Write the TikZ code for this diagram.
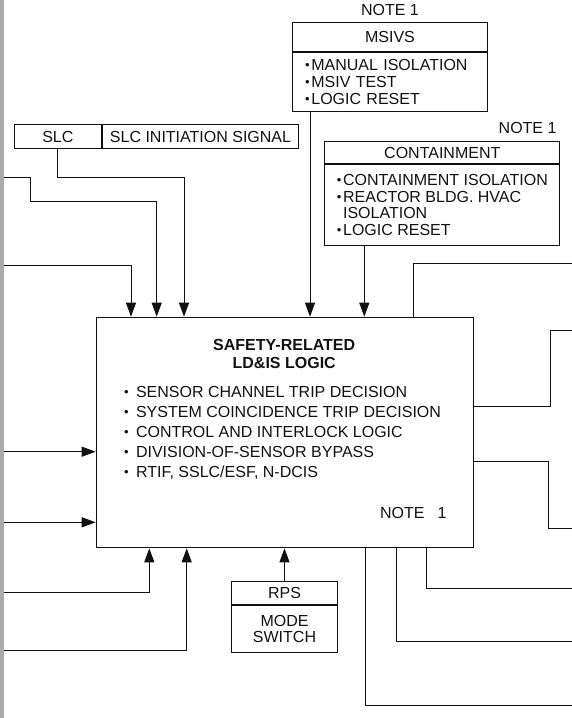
\documentclass[tikz,border=0pt]{standalone}
\usepackage{fontspec}
\setmainfont{Liberation Sans}
\usetikzlibrary{arrows.meta, positioning, calc}
\definecolor{ink}{HTML}{111111}
\definecolor{rail}{HTML}{ABABAB}
\tikzset{
  box/.style={draw=ink, line width=1pt, rectangle, inner sep=0pt,
              font=\fontsize{16}{17}\selectfont, text=ink},
  hbox/.style={box, align=center},
  lbox/.style={box, align=left},
  note/.style={inner sep=0pt, font=\fontsize{16}{17}\selectfont, text=ink},
  fl/.style={-{Triangle[length=14pt, width=10pt]}, line width=1pt, draw=ink},
  wire/.style={line width=1pt, draw=ink},
}
\newcommand{\dotb}{\raisebox{1pt}{\fontsize{13}{13}\selectfont •}}
\newcommand{\itm}{\dotb\kern1.8pt}
\newcommand{\ind}{\hphantom{\itm}}

\begin{document}
\begin{tikzpicture}[x=1pt, y=-1pt]
  \useasboundingbox (0,0) rectangle (572,718);
  \fill[rail] (0,0) rectangle (4.3,718);

  % main logic block
  \node[box, minimum width=377pt, minimum height=230.6pt, anchor=north west] (logic) at (95.7,316.7) {};
  \node[note, font=\bfseries\fontsize{16}{17.7}\selectfont, align=center] (title) at (284.2,353.9)
    {SAFETY-RELATED\\LD\&IS LOGIC};
  \node[note, font=\fontsize{16}{20}\selectfont, align=left, anchor=north west] (funcs) at (123.8,386)
    {\dotb\hspace{7.5pt}SENSOR CHANNEL TRIP DECISION\\
     \dotb\hspace{7.5pt}SYSTEM COINCIDENCE TRIP DECISION\\
     \dotb\hspace{7.5pt}CONTROL AND INTERLOCK LOGIC\\
     \dotb\hspace{7.5pt}DIVISION-OF-SENSOR BYPASS\\
     \dotb\hspace{7.5pt}RTIF, SSLC/ESF, N-DCIS};
  \node[note] (lnote) at (413.3,512.7) {NOTE\hspace{13pt}1};

  % MSIVS
  \node[note] (msnote) at (390,10) {NOTE 1};
  \node[hbox, minimum width=194.4pt, minimum height=29pt, anchor=north west] (msivs) at (292.3,21.7) {MSIVS};
  \node[lbox, minimum width=194.4pt, minimum height=59.3pt, inner xsep=12.2pt, text width=170pt,
        anchor=north] (msbody) at (msivs.south)
    {\itm MANUAL ISOLATION\\\itm MSIV TEST\\\itm LOGIC RESET};

  % containment
  \node[note, anchor=east] (ctnote) at (556.7,128.3) {NOTE 1};
  \node[hbox, minimum width=235pt, minimum height=22.6pt, anchor=north west] (cont) at (324.3,140.7) {CONTAINMENT};
  \node[lbox, font=\fontsize{16}{16.5}\selectfont, minimum width=235pt, minimum height=80.7pt,
        anchor=north] (ctbody) at (cont.south)
    {\itm CONTAINMENT ISOLATION\\\itm REACTOR BLDG. HVAC\\\ind ISOLATION\\\itm LOGIC RESET};

  % SLC
  \node[hbox, minimum width=86.7pt, minimum height=24.3pt, anchor=north west] (slc) at (14,124) {SLC};
  \node[hbox, minimum width=196.6pt, minimum height=24.3pt, anchor=north west] (slcsig) at (slc.north east)
    {SLC INITIATION SIGNAL};

  % RPS mode switch
  \node[hbox, minimum width=106.6pt, minimum height=23.3pt, anchor=north west] (rps) at (230.7,580.7) {RPS};
  \node[hbox, font=\fontsize{16}{15.7}\selectfont, minimum width=106.6pt, minimum height=46.7pt,
        anchor=north] (mode) at (rps.south) {MODE\\SWITCH};

  % free ends at the rail and the right margin
  \coordinate (in1) at (4.3,177.7);
  \coordinate (in2) at (4.3,265);
  \coordinate (in3) at (4.3,451.7);
  \coordinate (in4) at (4.3,522.3);
  \coordinate (in5) at (4.3,592.3);
  \coordinate (in6) at (4.3,650.7);
  \coordinate (out1) at (572,263.3);
  \coordinate (out2) at (572,330.7);
  \coordinate (out3) at (572,528.7);
  \coordinate (out4) at (572,588.3);
  \coordinate (out5) at (572,641.7);
  \coordinate (out6) at (572,705);

  % inputs
  \draw[fl] (in1) -| ++(26.4,24) -| ([xshift=61pt]logic.north west);
  \draw[fl] (in2) -| ([xshift=35.3pt]logic.north west);
  \draw[fl] (slc.south) -- ++(0,28.4) -| ([xshift=88.3pt]logic.north west);
  \draw[fl] ([xshift=17.7pt]msbody.south west) -- ([xshift=214.3pt]logic.north west);
  \draw[fl] ([xshift=40pt]ctbody.south west) -- ([xshift=268.6pt]logic.north west);
  \draw[fl] (in3) -- (in3 -| logic.west);
  \draw[fl] (in4) -- (in4 -| logic.west);
  \draw[fl] (in5) -| ([xshift=53.6pt]logic.south west);
  \draw[fl] (in6) -| ([xshift=91pt]logic.south west);
  \draw[fl] (rps.north) -- (rps.north |- logic.south);

  % outputs
  \draw[wire] ([xshift=317.6pt]logic.north west) |- (out1);
  \draw[wire] ([yshift=-89.3pt]logic.north east) -- ++(76.3,0) |- (out2);
  \draw[wire] ([yshift=-144.3pt]logic.north east) -- ++(74.6,0) |- (out3);
  \draw[wire] ([xshift=331pt]logic.south west) |- (out4);
  \draw[wire] ([xshift=301pt]logic.south west) |- (out5);
  \draw[wire] ([xshift=269.3pt]logic.south west) |- (out6);
\end{tikzpicture}
\end{document}
